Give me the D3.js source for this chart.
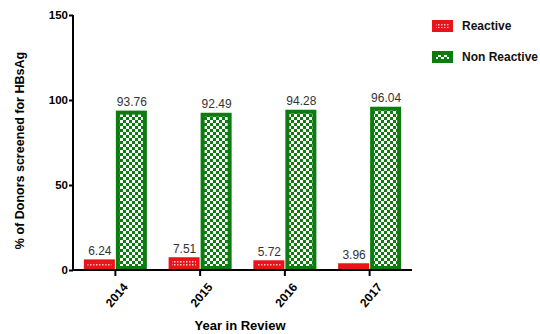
<!DOCTYPE html>
<html><head><meta charset="utf-8">
<script src="https://cdn.jsdelivr.net/npm/d3@7"></script>
<style>body{margin:0;background:#fff}svg{display:block}</style>
</head><body>
<script>
const years = ["2014","2015","2016","2017"];
const reactive = [6.24, 7.51, 5.72, 3.96];
const nonReactive = [93.76, 92.49, 94.28, 96.04];
const reactiveLabels = ["6.24","7.51","5.72","3.96"];
const nonReactiveLabels = ["93.76","92.49","94.28","96.04"];
const yTicks = [0, 50, 100, 150];
const seriesNames = ["Reactive", "Non Reactive"];

const W = 540, H = 334;
const svg = d3.select("body").append("svg").attr("width", W).attr("height", H);
const defs = svg.append("defs");
const RED = "#e8141c", GREEN = "#0c7c10";

const pr = defs.append("pattern").attr("id","pRed").attr("patternUnits","userSpaceOnUse").attr("width",3).attr("height",3);
pr.append("rect").attr("width",3).attr("height",3).attr("fill",RED);
pr.append("rect").attr("x",0).attr("y",0).attr("width",1.5).attr("height",1.5).attr("fill","#f8c8c8");
const pg = defs.append("pattern").attr("id","pGreen").attr("patternUnits","userSpaceOnUse").attr("width",6).attr("height",6);
pg.append("rect").attr("width",6).attr("height",6).attr("fill",GREEN);
pg.append("rect").attr("x",0).attr("y",0).attr("width",3).attr("height",3).attr("fill","#fff");
pg.append("rect").attr("x",3).attr("y",3).attr("width",3).attr("height",3).attr("fill","#fff");

const x0 = 73, x1 = 412, y0 = 270, yTop = 15;
const x = d3.scaleBand().domain(years).range([x0, x1]);
const y = d3.scaleLinear().domain([0,150]).range([y0, yTop]);
const bw = 31;
const font = "'Liberation Sans', Arial, sans-serif";

const g = svg.append("g");
function drawBar(xl, v, fillId, color, inset){
  const yt = y(v), h = y0 - yt;
  g.append("rect").attr("x", xl).attr("y", yt).attr("width", bw).attr("height", h).attr("fill", color);
  if (h > inset*2) g.append("rect").attr("x", xl+inset).attr("y", yt+inset).attr("width", bw-2*inset).attr("height", h-2*inset).attr("fill", `url(#${fillId})`);
}
years.forEach((yr,i)=>{
  const c = x(yr) + x.bandwidth()/2;
  drawBar(c - bw - 0.5, reactive[i], "pRed", RED, 3.5);
  drawBar(c + 0.5, nonReactive[i], "pGreen", GREEN, 4);
  g.append("text").attr("x", c - bw/2).attr("y", y(reactive[i]) - 4).attr("text-anchor","middle")
    .attr("font-family", font).attr("font-size", 12).attr("fill", "#333").text(reactiveLabels[i]);
  g.append("text").attr("x", c + bw/2 + 1).attr("y", y(nonReactive[i]) - 5).attr("text-anchor","middle")
    .attr("font-family", font).attr("font-size", 12).attr("fill", "#333").text(nonReactiveLabels[i]);
});

const ya = svg.append("g").attr("transform", `translate(${x0},0)`)
  .call(d3.axisLeft(y).tickValues(yTicks).tickSize(4).tickPadding(1).tickFormat(d3.format("d")));
ya.select(".domain").attr("stroke","#000").attr("stroke-width",2).attr("d", `M0,${y0}V${yTop}`);
ya.selectAll(".tick line").attr("stroke","#000").attr("stroke-width",2);
ya.selectAll(".tick text").attr("font-family", font).attr("font-size", 11.5).attr("font-weight","bold").attr("fill","#000");

const xa = svg.append("g").attr("transform", `translate(0,${y0})`)
  .call(d3.axisBottom(x).tickSize(6).tickPadding(3));
xa.select(".domain").attr("stroke","#000").attr("stroke-width",2).attr("d", `M${x0-1},0H${x1}`);
xa.selectAll(".tick line").attr("stroke","#000").attr("stroke-width",2);
xa.selectAll(".tick text").attr("font-family", font).attr("font-size", 12).attr("font-weight","bold").attr("fill","#000")
  .attr("text-anchor","end").attr("transform","translate(3,9) rotate(-50)").attr("dy","0.35em");

svg.append("text").attr("x", 240).attr("y", 330).attr("text-anchor","middle")
  .attr("font-family", font).attr("font-size", 13).attr("font-weight","bold").text("Year in Review");
svg.append("text").attr("transform", `translate(24,${(y0+yTop)/2+8}) rotate(-90)`).attr("text-anchor","middle")
  .attr("font-family", font).attr("font-size", 12.5).attr("font-weight","bold").text("% of Donors screened for HBsAg");

const leg = svg.append("g");
[["pRed", RED], ["pGreen", GREEN]].forEach(([pid, col], i)=>{
  const ly = 20 + i*31;
  leg.append("rect").attr("x", 432).attr("y", ly).attr("width", 21).attr("height", 12).attr("fill", col);
  leg.append("rect").attr("x", 436).attr("y", ly+4).attr("width", 13).attr("height", 4).attr("fill", `url(#${pid})`);
  leg.append("text").attr("x", 462).attr("y", ly+10).attr("font-family", font).attr("font-size", 12)
    .attr("font-weight","bold").attr("fill","#111").text(seriesNames[i]);
});
</script>
</body></html>
